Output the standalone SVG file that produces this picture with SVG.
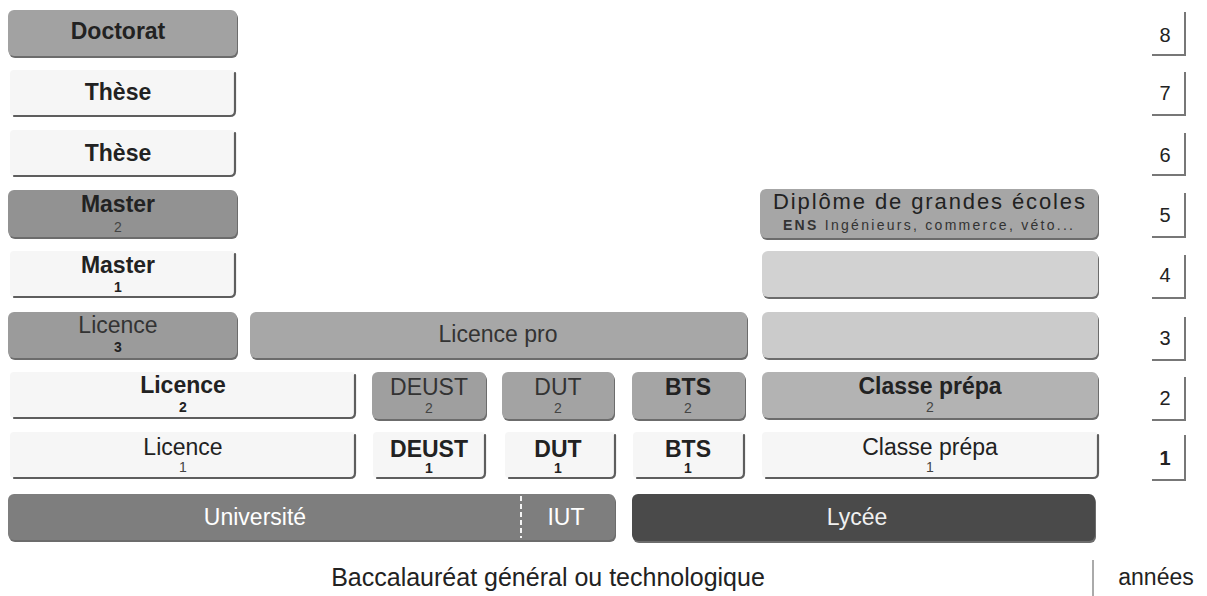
<svg xmlns="http://www.w3.org/2000/svg" width="1207" height="596" viewBox="0 0 1207 596">
<style>
text { font-family: "Liberation Sans", Arial, sans-serif; fill: #222; text-anchor: middle; font-size: 23px; }
.b { font-weight: bold; }
.n { font-size: 14px; font-weight: bold; }
.nl { font-size: 14px; fill: #444; }
.sh { fill: #6c6c6c; }
.w { fill: #f6f6f6; }
.edge { fill: none; stroke: #5e5e5e; stroke-width: 2.2; stroke-linecap: round; }
.yr { font-size: 20px; }
.yl { fill: none; stroke: #777; stroke-width: 2; }
</style>

<g id="doctorat">
<rect class="sh" x="9" y="12" width="229" height="46" rx="6"/>
<rect x="8" y="10" width="229" height="46" rx="6" fill="#a2a2a2"/>
<text class="b" x="118" y="39">Doctorat</text>
</g>
<g id="these7">
<rect class="w" x="10" y="70" width="225" height="46" rx="4"/>
<path class="edge" d="M14 116 H230 Q235 116 235 111 V73"/>
<text class="b" x="118" y="100">Thèse</text>
</g>
<g id="these6">
<rect class="w" x="10" y="130" width="225" height="46" rx="4"/>
<path class="edge" d="M14 176 H230 Q235 176 235 171 V133"/>
<text class="b" x="118" y="161">Thèse</text>
</g>
<g id="master2">
<rect class="sh" x="9" y="192" width="229" height="47" rx="6"/>
<rect x="8" y="190" width="229" height="47" rx="6" fill="#929292"/>
<text class="b" x="118" y="212">Master</text>
<text class="nl" x="118" y="232">2</text>
</g>
<g id="master1">
<rect class="w" x="10" y="251" width="225" height="46" rx="4"/>
<path class="edge" d="M14 297 H230 Q235 297 235 292 V254"/>
<text class="b" x="118" y="273">Master</text>
<text class="n" x="118" y="292">1</text>
</g>
<g id="licence3">
<rect class="sh" x="9" y="314" width="229" height="46" rx="6"/>
<rect x="8" y="312" width="229" height="46" rx="6" fill="#9b9b9b"/>
<text x="118" y="333" style="fill:#333">Licence</text>
<text class="n" x="118" y="352">3</text>
</g>
<g id="licencepro">
<rect class="sh" x="251" y="314" width="497" height="46" rx="6"/>
<rect x="250" y="312" width="497" height="46" rx="6" fill="#a7a7a7"/>
<text x="498" y="342" style="fill:#333">Licence pro</text>
</g>
<g id="grandes-ecoles">
<rect class="sh" x="761" y="191" width="338" height="49" rx="6"/>
<rect x="760" y="189" width="338" height="49" rx="6" fill="#a6a6a6"/>
<text x="929" y="209" style="font-size:22px" textLength="312" lengthAdjust="spacing">Diplôme de grandes écoles</text>
<text x="928" y="230" style="font-size:14px;fill:#333" textLength="290" lengthAdjust="spacing"><tspan class="b">ENS</tspan> Ingénieurs, commerce, véto...</text>
</g>
<g id="ecoles4">
<rect class="sh" x="763" y="253" width="336" height="46" rx="6"/>
<rect x="762" y="251" width="336" height="46" rx="6" fill="#d2d2d2"/>
</g>
<g id="ecoles3">
<rect class="sh" x="763" y="314" width="336" height="46" rx="6"/>
<rect x="762" y="312" width="336" height="46" rx="6" fill="#cbcbcb"/>
</g>

<g id="licence2">
<rect class="w" x="10" y="372" width="345" height="46" rx="4"/>
<path class="edge" d="M14 418 H350 Q355 418 355 413 V375"/>
<text class="b" x="183" y="393">Licence</text>
<text class="n" x="183" y="412">2</text>
</g>
<g id="deust2">
<rect class="sh" x="373" y="374" width="114" height="47" rx="6"/>
<rect x="372" y="372" width="114" height="47" rx="6" fill="#9f9f9f"/>
<text x="429" y="395" style="fill:#333">DEUST</text>
<text class="nl" x="429" y="413">2</text>
</g>
<g id="dut2">
<rect class="sh" x="503" y="374" width="112" height="47" rx="6"/>
<rect x="502" y="372" width="112" height="47" rx="6" fill="#a3a3a3"/>
<text x="558" y="395" style="fill:#333">DUT</text>
<text class="nl" x="558" y="413">2</text>
</g>
<g id="bts2">
<rect class="sh" x="633" y="374" width="113" height="47" rx="6"/>
<rect x="632" y="372" width="113" height="47" rx="6" fill="#a5a5a5"/>
<text class="b" x="688" y="395">BTS</text>
<text class="nl" x="688" y="413">2</text>
</g>
<g id="prepa2">
<rect class="sh" x="763" y="374" width="336" height="46" rx="6"/>
<rect x="762" y="372" width="336" height="46" rx="6" fill="#b3b3b3"/>
<text class="b" x="930" y="394">Classe prépa</text>
<text class="nl" x="930" y="412">2</text>
</g>

<g id="licence1">
<rect class="w" x="10" y="432" width="345" height="46" rx="4"/>
<path class="edge" d="M14 478 H350 Q355 478 355 473 V435"/>
<text x="183" y="455">Licence</text>
<text class="nl" x="183" y="472">1</text>
</g>
<g id="deust1">
<rect class="w" x="373" y="432" width="112" height="46" rx="4"/>
<path class="edge" d="M377 478 H480 Q485 478 485 473 V435"/>
<text class="b" x="429" y="457">DEUST</text>
<text class="n" x="429" y="473">1</text>
</g>
<g id="dut1">
<rect class="w" x="505" y="432" width="110" height="46" rx="4"/>
<path class="edge" d="M509 478 H610 Q615 478 615 473 V435"/>
<text class="b" x="558" y="457">DUT</text>
<text class="n" x="558" y="473">1</text>
</g>
<g id="bts1">
<rect class="w" x="633" y="432" width="111" height="46" rx="4"/>
<path class="edge" d="M637 478 H739 Q744 478 744 473 V435"/>
<text class="b" x="688" y="457">BTS</text>
<text class="n" x="688" y="473">1</text>
</g>
<g id="prepa1">
<rect class="w" x="762" y="432" width="336" height="46" rx="4"/>
<path class="edge" d="M766 478 H1093 Q1098 478 1098 473 V435"/>
<text x="930" y="455">Classe prépa</text>
<text class="nl" x="930" y="472">1</text>
</g>

<g id="universite-iut">
<rect class="sh" x="9" y="496" width="607" height="46" rx="6"/>
<rect x="8" y="494" width="607" height="46" rx="6" fill="#7e7e7e"/>
<line x1="521" y1="496" x2="521" y2="538" stroke="#f4f4f4" stroke-width="2" stroke-dasharray="5 3"/>
<text x="255" y="525" style="fill:#fff">Université</text>
<text x="566" y="525" style="fill:#fff">IUT</text>
</g>
<g id="lycee">
<rect class="sh" x="633" y="496" width="463" height="47" rx="6"/>
<rect x="632" y="494" width="463" height="47" rx="6" fill="#4a4a4a"/>
<text x="857" y="525" style="fill:#f0f0f0">Lycée</text>
</g>

<g id="baccalaureat">
<line x1="1093" y1="560" x2="1093" y2="596" stroke="#aaa" stroke-width="2"/>
<text x="548" y="586" style="font-size:25px">Baccalauréat général ou technologique</text>
</g>

<g id="annees">
<path class="yl" d="M1152 55 H1185 V12"/><text class="yr" x="1165" y="42">8</text>
<path class="yl" d="M1152 115 H1185 V72"/><text class="yr" x="1165" y="100">7</text>
<path class="yl" d="M1152 175 H1185 V133"/><text class="yr" x="1165" y="162">6</text>
<path class="yl" d="M1152 237 H1185 V193"/><text class="yr" x="1165" y="222">5</text>
<path class="yl" d="M1152 298 H1185 V255"/><text class="yr" x="1165" y="282">4</text>
<path class="yl" d="M1152 360 H1185 V317"/><text class="yr" x="1165" y="345">3</text>
<path class="yl" d="M1152 420 H1185 V377"/><text class="yr" x="1165" y="405">2</text>
<path class="yl" d="M1152 480 H1185 V435"/><text class="yr b" x="1165" y="465">1</text>
<text x="1156" y="585">années</text>
</g>

<g id="connectors"></g>
</svg>
